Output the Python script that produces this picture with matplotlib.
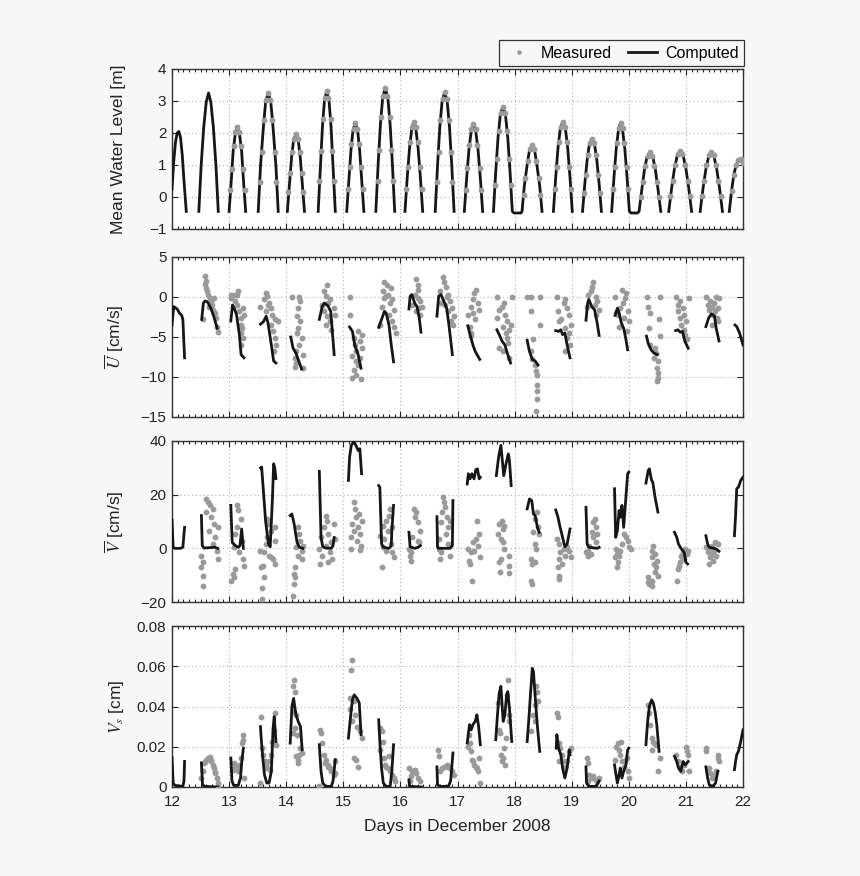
import numpy as np
import matplotlib
matplotlib.use('Agg')
import matplotlib.pyplot as plt
from matplotlib.lines import Line2D
from matplotlib.ticker import MultipleLocator

nan = np.nan

# ---- mean water level [m] (computed, nan = gap) ----
wl_t = [12.00, 12.03, 12.06, 12.09, 12.12, 12.15, 12.18, 12.21, 12.25, nan,
        12.47, 12.51, 12.555, 12.60, 12.64, 12.68, 12.725, 12.77, 12.81, nan,
        13.00, 13.04, 13.07, 13.11, 13.145, 13.18, 13.22, 13.25, 13.29, nan,
        13.51, 13.55, 13.60, 13.64, 13.685, 13.73, 13.77, 13.82, 13.86, nan,
        14.02, 14.06, 14.095, 14.13, 14.17, 14.21, 14.245, 14.28, 14.32, nan,
        14.56, 14.60, 14.635, 14.67, 14.71, 14.75, 14.785, 14.82, 14.86, nan,
        15.06, 15.10, 15.135, 15.17, 15.21, 15.25, 15.285, 15.32, 15.36, nan,
        15.57, 15.61, 15.65, 15.69, 15.735, 15.78, 15.82, 15.86, 15.90, nan,
        16.08, 16.12, 16.16, 16.20, 16.235, 16.27, 16.31, 16.35, 16.39, nan,
        16.61, 16.65, 16.69, 16.73, 16.775, 16.82, 16.86, 16.90, 16.94, nan,
        17.12, 17.16, 17.20, 17.24, 17.28, 17.32, 17.36, 17.40, 17.44, nan,
        17.63, 17.67, 17.71, 17.75, 17.795, 17.84, 17.88, 17.92, 17.96, 17.99, 18.11,
        18.13, 18.17, 18.22, 18.26, 18.305, 18.35, 18.39, 18.44, 18.48, nan,
        18.68, 18.72, 18.76, 18.80, 18.845, 18.89, 18.93, 18.97, 19.01, nan,
        19.19, 19.23, 19.27, 19.31, 19.355, 19.40, 19.44, 19.48, 19.52, nan,
        19.70, 19.74, 19.78, 19.82, 19.855, 19.89, 19.93, 19.97, 20.01, 20.04, 20.15,
        20.18, 20.23, 20.275, 20.32, 20.37, 20.42, 20.465, 20.51, 20.56, nan,
        20.70, 20.75, 20.80, 20.85, 20.90, 20.95, 21.00, 21.05, 21.10, nan,
        21.25, 21.30, 21.35, 21.40, 21.445, 21.49, 21.54, 21.59, 21.64, nan,
        21.76, 21.80, 21.84, 21.88, 21.92, 21.96, 22.00]
wl_v = [0.25, 1.1, 1.7, 2.0, 2.05, 1.85, 1.3, 0.5, -0.45, nan,
        -0.45, 0.97, 2.17, 2.97, 3.25, 2.97, 2.17, 0.97, -0.45, nan,
        -0.45, 0.56, 1.42, 2.0, 2.2, 2.0, 1.42, 0.56, -0.45, nan,
        -0.45, 0.97, 2.17, 2.97, 3.25, 2.97, 2.17, 0.97, -0.45, nan,
        -0.45, 0.48, 1.26, 1.79, 1.97, 1.79, 1.26, 0.48, -0.45, nan,
        -0.45, 0.99, 2.20, 3.02, 3.3, 3.02, 2.20, 0.99, -0.45, nan,
        -0.45, 0.60, 1.49, 2.09, 2.3, 2.09, 1.49, 0.60, -0.45, nan,
        -0.45, 1.02, 2.27, 3.11, 3.4, 3.11, 2.27, 1.02, -0.45, nan,
        -0.45, 0.62, 1.53, 2.14, 2.35, 2.14, 1.53, 0.62, -0.45, nan,
        -0.45, 0.97, 2.18, 2.99, 3.27, 2.99, 2.18, 0.97, -0.45, nan,
        -0.45, 0.59, 1.47, 2.06, 2.27, 2.06, 1.47, 0.59, -0.45, nan,
        -0.45, 0.80, 1.86, 2.57, 2.82, 2.57, 1.86, 0.80, -0.45, -0.5, -0.5,
        -0.45, 0.34, 1.01, 1.46, 1.62, 1.46, 1.01, 0.34, -0.45, nan,
        -0.45, 0.62, 1.53, 2.14, 2.35, 2.14, 1.53, 0.62, -0.45, nan,
        -0.45, 0.42, 1.15, 1.65, 1.82, 1.65, 1.15, 0.42, -0.45, nan,
        -0.45, 0.61, 1.51, 2.11, 2.32, 2.11, 1.51, 0.61, -0.45, -0.5, -0.5,
        -0.45, 0.26, 0.86, 1.26, 1.4, 1.26, 0.86, 0.26, -0.45, nan,
        -0.45, 0.28, 0.89, 1.31, 1.45, 1.31, 0.89, 0.28, -0.45, nan,
        -0.45, 0.27, 0.87, 1.28, 1.42, 1.28, 0.87, 0.27, -0.45, nan,
        -0.45, 0.2, 0.7, 1.0, 1.15, 1.2, 1.05]

# measured water level
wl_mt = [13.02, 13.05, 13.08, 13.11, 13.145, 13.18, 13.21, 13.24, 13.27,
         13.54, 13.57, 13.61, 13.65, 13.685, 13.72, 13.76, 13.80, 13.83,
         14.04, 14.07, 14.10, 14.14, 14.17, 14.20, 14.24, 14.27, 14.30,
         14.58, 14.61, 14.64, 14.68, 14.71, 14.74, 14.78, 14.81, 14.84,
         15.08, 15.11, 15.14, 15.18, 15.21, 15.24, 15.28, 15.31, 15.34,
         15.60, 15.63, 15.66, 15.70, 15.735, 15.77, 15.81, 15.84, 15.87,
         16.10, 16.13, 16.17, 16.20, 16.235, 16.27, 16.30, 16.34, 16.37,
         16.64, 16.67, 16.70, 16.74, 16.775, 16.81, 16.85, 16.88, 16.91,
         17.15, 17.17, 17.21, 17.24, 17.28, 17.32, 17.35, 17.39, 17.41,
         17.66, 17.69, 17.72, 17.76, 17.795, 17.83, 17.87, 17.90, 17.93,
         18.16, 18.19, 18.23, 18.27, 18.305, 18.34, 18.38, 18.42, 18.45,
         18.71, 18.74, 18.77, 18.81, 18.845, 18.88, 18.92, 18.95, 18.98,
         19.22, 19.25, 19.28, 19.32, 19.355, 19.39, 19.43, 19.46, 19.49,
         19.72, 19.75, 19.79, 19.82, 19.855, 19.89, 19.92, 19.96, 19.99,
         20.21, 20.24, 20.29, 20.33, 20.37, 20.41, 20.45, 20.50, 20.53,
         20.73, 20.77, 20.81, 20.86, 20.90, 20.94, 20.99, 21.03, 21.07,
         21.28, 21.32, 21.36, 21.40, 21.445, 21.49, 21.53, 21.57, 21.61,
         21.80, 21.84, 21.88, 21.92, 21.96, 22.00]
wl_mv = [0.21, 0.88, 1.59, 2.04, 2.2, 2.04, 1.59, 0.88, 0.21,
         0.48, 1.40, 2.40, 3.03, 3.25, 3.03, 2.40, 1.40, 0.48,
         0.16, 0.76, 1.41, 1.82, 1.97, 1.82, 1.41, 0.76, 0.16,
         0.49, 1.43, 2.44, 3.08, 3.3, 3.08, 2.44, 1.43, 0.49,
         0.24, 0.93, 1.67, 2.14, 2.3, 2.14, 1.67, 0.93, 0.24,
         0.51, 1.48, 2.51, 3.17, 3.4, 3.17, 2.51, 1.48, 0.51,
         0.25, 0.95, 1.71, 2.18, 2.35, 2.18, 1.71, 0.95, 0.25,
         0.48, 1.41, 2.41, 3.05, 3.27, 3.05, 2.41, 1.41, 0.48,
         0.23, 0.91, 1.64, 2.11, 2.27, 2.11, 1.64, 0.91, 0.23,
         0.37, 1.19, 2.07, 2.62, 2.82, 2.62, 2.07, 1.19, 0.37,
         0.07, 0.59, 1.14, 1.50, 1.62, 1.50, 1.14, 0.59, 0.07,
         0.25, 0.95, 1.71, 2.18, 2.35, 2.18, 1.71, 0.95, 0.25,
         0.12, 0.69, 1.30, 1.68, 1.82, 1.68, 1.30, 0.69, 0.12,
         0.24, 0.94, 1.68, 2.15, 2.32, 2.15, 1.68, 0.94, 0.24,
         0.01, 0.48, 0.97, 1.29, 1.4, 1.29, 0.97, 0.48, 0.01,
         0.03, 0.50, 1.01, 1.34, 1.45, 1.34, 1.01, 0.50, 0.03,
         0.02, 0.49, 0.99, 1.31, 1.42, 1.31, 0.99, 0.49, 0.02,
         0.2, 0.7, 1.0, 1.15, 1.2, 1.05]

# ---- depth-mean cross-shore velocity U [cm/s] ----
u_t = [12.00, 12.03, 12.09, 12.13, 12.17, 12.19, 12.22, nan,
       12.52, 12.55, 12.58, 12.62, 12.68, 12.73, 12.79, nan,
       13.03, 13.06, 13.09, 13.13, 13.18, 13.21, 13.26, nan,
       13.55, 13.60, 13.65, 13.68, 13.74, 13.78, 13.82, nan,
       14.08, 14.12, 14.17, 14.21, 14.27, nan,
       14.58, 14.63, 14.67, 14.73, 14.78, 14.81, 14.84, nan,
       15.11, 15.16, 15.20, 15.26, 15.31, nan,
       15.62, 15.66, 15.72, 15.75, 15.80, 15.84, 15.88, nan,
       16.15, 16.17, 16.20, 16.25, 16.29, 16.33, 16.36, nan,
       16.64, 16.67, 16.71, 16.76, 16.81, 16.85, 16.91, nan,
       17.18, 17.22, 17.27, 17.31, 17.39, nan,
       17.69, 17.73, 17.78, 17.83, 17.88, 17.93, nan,
       18.22, 18.26, 18.31, 18.36, 18.41, nan,
       18.72, 18.77, 18.81, 18.84, 18.88, 18.92, 18.97, nan,
       19.25, 19.28, 19.30, 19.35, 19.40, 19.44, 19.48, nan,
       19.76, 19.80, 19.83, 19.87, 19.91, 19.95, 19.98, nan,
       20.31, 20.34, 20.39, 20.44, 20.50, nan,
       20.82, 20.86, 20.90, 20.94, 20.98, 21.04, nan,
       21.35, 21.40, 21.45, 21.50, 21.53, 21.58, nan,
       21.86, 21.89, 21.94, 22.00]
u_v = [-3.5, -1.2, -1.5, -2.0, -2.3, -2.8, -7.6, nan,
       -2.8, -0.75, -0.5, -0.6, -1.4, -2.4, -3.9, nan,
       -3.0, -1.0, -1.4, -2.2, -4.7, -7.2, -7.6, nan,
       -3.4, -3.1, -2.4, -3.2, -6.0, -8.0, -8.25, nan,
       -5.0, -6.4, -7.0, -7.8, -9.0, nan,
       -2.8, -1.2, -0.75, -1.1, -1.8, -4.5, -7.2, nan,
       -3.75, -4.3, -6.0, -7.2, -8.9, nan,
       -3.8, -3.0, -1.8, -2.0, -3.5, -6.0, -8.1, nan,
       -1.5, 0.1, 0.3, -0.75, -1.2, -2.6, -4.4, nan,
       -2.4, 0.1, 0.3, -0.5, -1.4, -3.5, -7.2, nan,
       -3.6, -4.7, -6.0, -6.8, -7.8, nan,
       -4.1, -4.7, -5.5, -6.0, -7.2, -8.25, nan,
       -5.4, -6.8, -7.8, -8.0, -8.5, nan,
       -4.2, -4.3, -4.1, -4.7, -4.5, -6.0, -7.6, nan,
       -2.9, -0.75, -0.3, -1.2, -1.6, -3.0, -4.8, nan,
       -2.3, -1.4, -2.0, -3.25, -3.9, -5.3, -6.6, nan,
       -4.9, -5.8, -6.6, -7.0, -7.2, nan,
       -4.2, -4.1, -4.4, -4.3, -5.5, -6.4, nan,
       -3.7, -2.6, -2.1, -2.4, -3.9, -5.5, nan,
       -3.5, -3.7, -4.5, -6.0]

u_mt = [12.58, 12.59, 12.60, 12.61, 12.63, 12.66, 12.68, 12.70, 12.72, 12.75, 12.77, 12.78, 12.80, 12.55, 12.65, 12.74, 12.585,
        13.03, 13.08, 13.13, 13.16, 13.04, 13.11, 13.14, 13.18, 13.20, 13.21, 13.22, 13.20, 13.24, 13.21, 13.24, 13.26,
        13.64, 13.67, 13.61, 13.70, 13.54, 13.74, 13.64, 13.75, 13.80, 13.74, 13.77, 13.80, 13.82, 13.79, 13.86, 13.68,
        14.10, 14.23, 14.25, 14.21, 14.19, 14.25, 14.21, 14.19, 14.27, 14.23, 14.17, 14.15, 14.17, 14.15, 14.30, 14.30,
        14.71, 14.66, 14.69, 14.76, 14.73, 14.83, 14.66, 14.71, 14.76, 14.69, 14.79, 14.86, 14.63,
        15.12, 15.12, 15.26, 15.32, 15.19, 15.29, 15.20, 15.22, 15.16, 15.22, 15.26, 15.18, 15.22, 15.16, 15.31, 15.29, 15.32,
        15.72, 15.77, 15.84, 15.69, 15.78, 15.74, 15.85, 15.82, 15.67, 15.88, 15.80, 15.85, 15.88, 15.92, 15.65, 15.71,
        16.28, 16.31, 16.30, 16.25, 16.31, 16.35, 16.21, 16.33, 16.28, 16.35, 16.37,
        16.74, 16.76, 16.79, 16.70, 16.84, 16.81, 16.87, 16.78, 16.91, 16.84, 16.94, 16.89, 16.92, 16.71,
        17.32, 17.29, 17.27, 17.36, 17.24, 17.38, 17.27, 17.18, 17.30, 17.22, 17.24, 17.245,
        17.70, 17.95, 17.82, 17.78, 17.73, 17.83, 17.70, 17.87, 17.80, 17.90, 17.85, 17.87, 17.89, 17.73, 17.80, 17.91, 17.93,
        18.22, 18.29, 18.44, 18.29, 18.44, 18.33, 18.28, 18.31, 18.35, 18.37, 18.39, 18.39, 18.39, 18.39, 18.37,
        18.74, 18.89, 18.86, 18.92, 18.76, 18.96, 18.82, 18.99, 18.89, 18.96, 18.92, 18.97, 18.88, 18.77,
        19.38, 19.35, 19.34, 19.28, 19.42, 19.45, 19.40, 19.47, 19.43, 19.27,
        19.88, 19.95, 19.76, 19.93, 19.89, 19.85, 19.98, 19.81, 19.91, 20.01, 19.83, 19.96, 19.78,
        20.31, 20.55, 20.34, 20.38, 20.53, 20.36, 20.54, 20.38, 20.46, 20.47, 20.44, 20.51, 20.49, 20.51, 20.51, 20.49,
        20.82, 20.90, 20.86, 20.95, 20.87, 20.97, 20.90, 21.00, 20.92, 20.97, 20.99, 21.02, 21.06,
        21.35, 21.52, 21.58, 21.43, 21.49, 21.39, 21.46, 21.56, 21.41, 21.51, 21.47, 21.54, 21.57, 21.45]
u_mv = [2.6, 2.0, 1.1, 0.7, 0.3, -0.1, -0.5, -1.0, -1.6, -2.0, -2.6, -3.7, -4.4, -2.8, -1.2, -0.1, 1.6,
        0.3, 0.3, 0.3, 0.7, -0.1, -0.5, -1.0, -1.8, -2.6, -3.5, -3.9, -4.5, -5.1, -6.0, -1.4, -2.2,
        0.5, 0.1, -0.3, -0.75, -1.2, -1.4, -1.8, -2.2, -2.8, -3.5, -4.3, -5.1, -6.0, -6.8, -3.0, -1.0,
        0.0, 0.0, -0.5, -1.4, -2.4, -3.0, -3.9, -4.5, -5.1, -6.0, -6.8, -7.6, -8.25, -8.7, -8.9, -7.2,
        1.5, 0.7, 0.1, -0.3, -0.75, -1.4, -1.8, -2.4, -3.0, -3.5, -4.1, -2.2, -1.0,
        0.0, -2.2, -4.3, -4.7, -5.1, -5.5, -6.0, -6.8, -7.4, -8.0, -8.5, -9.1, -9.7, -10.1, -10.3, -7.6, -6.4,
        1.9, 1.5, 1.1, 0.7, 0.3, 0.1, -0.3, -0.75, -1.2, -1.6, -2.2, -3.0, -3.7, -4.5, -3.5, -0.1,
        2.2, 1.5, 0.9, 0.3, -0.1, -0.5, -1.0, -1.4, -1.8, -2.2, -1.2,
        2.5, 1.9, 1.3, 0.7, 0.3, -0.05, -0.5, -1.0, -1.4, -1.8, -2.4, -3.0, -3.5, -0.75,
        0.9, 0.5, -0.3, -0.75, -1.2, -1.6, -2.0, -2.2, -2.8, -3.7, -4.5, -4.9,
        0.0, 0.0, -0.75, -1.2, -1.6, -2.2, -2.6, -3.0, -3.7, -4.1, -4.5, -5.1, -5.75, -6.4, -6.8, -7.6, -3.5,
        0.0, 0.0, 0.0, -1.8, -3.5, -5.3, -6.8, -7.8, -8.5, -9.3, -9.7, -11.0, -11.8, -12.8, -14.3,
        0.0, -0.3, -0.75, -1.4, -1.8, -2.2, -2.8, -3.5, -3.9, -4.5, -5.1, -6.0, -6.8, -3.0,
        1.9, 1.3, 0.7, 0.3, 0.0, -0.5, -1.0, -1.6, -2.2, -1.2,
        0.9, 0.5, 0.0, -0.1, -0.75, -1.4, -1.8, -2.2, -2.6, -3.0, -3.7, -4.3, -2.0,
        0.0, 0.0, -1.2, -2.0, -2.8, -3.9, -4.9, -6.0, -6.4, -7.0, -7.6, -8.0, -8.9, -9.5, -10.1, -10.5,
        0.0, -0.5, -1.0, -1.4, -1.8, -2.2, -2.6, -3.0, -3.5, -4.1, -4.7, -5.3, -0.1,
        0.0, 0.0, -0.1, -0.5, -0.75, -1.0, -1.2, -1.4, -1.6, -1.8, -2.2, -2.6, -3.0, -3.5]

# ---- depth-mean alongshore velocity V [cm/s] ----
v_t = [12.00, 12.02, 12.05, 12.15, 12.19, 12.22, nan,
       12.515, 12.53, 12.56, 12.75, 12.80, nan,
       13.03, 13.055, 13.11, 13.16, 13.19, 13.22, 13.25, nan,
       13.55, 13.57, 13.64, 13.69, 13.72, 13.76, 13.78, 13.80, 13.82, nan,
       14.07, 14.10, 14.14, 14.19, 14.23, 14.29, nan,
       14.58, 14.61, 14.64, 14.69, 14.79, 14.82, 14.84, nan,
       15.09, 15.11, 15.14, 15.18, 15.22, 15.26, 15.29, 15.32, nan,
       15.62, 15.64, 15.67, 15.70, 15.80, 15.84, 15.85, 15.88, nan,
       16.15, 16.17, 16.25, 16.31, 16.35, nan,
       16.64, 16.65, 16.67, 16.87, 16.91, 16.92, nan,
       17.17, 17.19, 17.22, 17.25, 17.29, 17.32, 17.35, 17.38, 17.40, nan,
       17.68, 17.72, 17.76, 17.78, 17.81, 17.85, 17.89, 17.91, 17.94, nan,
       18.22, 18.26, 18.30, 18.33, 18.36, 18.40, 18.43, nan,
       18.72, 18.76, 18.79, 18.84, 18.88, 18.92, 18.97, nan,
       19.25, 19.27, 19.30, 19.45, 19.48, nan,
       19.75, 19.77, 19.80, 19.83, 19.85, 19.88, 19.91, 19.95, 19.98, 20.00, nan,
       20.30, 20.34, 20.36, 20.40, 20.42, 20.46, 20.51, nan,
       20.80, 20.84, 20.87, 20.92, 20.97, 21.00, 21.03, nan,
       21.35, 21.38, 21.41, 21.47, 21.53, 21.58, nan,
       21.85, 21.87, 21.89, 21.92, 21.96, 22.00]
v_v = [10.6, 0.4, 0.0, 0.0, 0.4, 7.8, nan,
       12.2, 1.0, 0.1, 0.4, 0.0, nan,
       16.0, 2.2, 1.0, 0.4, 1.0, 7.2, 0.0, nan,
       30.0, 30.3, 10.0, 1.6, 0.6, 19.0, 31.5, 30.0, 26.0, nan,
       12.2, 12.8, 9.0, 2.2, 0.4, 0.0, nan,
       28.7, 4.0, 0.6, 0.1, 0.0, 1.0, 4.0, nan,
       25.3, 34.0, 38.4, 39.6, 38.4, 36.5, 37.1, 27.8, nan,
       23.4, 22.8, 1.6, 0.4, 0.0, 1.0, 6.6, 16.0, nan,
       6.0, 0.6, 0.0, 0.4, 1.0, nan,
       11.8, 0.4, 0.0, 0.0, 1.0, 17.8, nan,
       24.0, 27.8, 25.9, 27.8, 25.9, 29.3, 29.6, 25.9, 26.5, nan,
       27.1, 34.0, 38.4, 34.0, 27.1, 31.5, 35.2, 32.7, 23.4, nan,
       14.7, 18.4, 17.8, 12.8, 12.2, 7.8, 6.0, nan,
       14.3, 11.6, 8.5, 4.1, 0.6, 1.6, 7.2, nan,
       15.3, 1.6, 0.4, 0.0, 0.4, nan,
       22.2, 4.1, 6.6, 14.1, 11.6, 16.0, 7.8, 19.0, 27.8, 28.4, nan,
       24.3, 29.0, 29.6, 25.3, 24.7, 19.0, 13.5, nan,
       6.0, 4.1, 1.6, -0.2, -1.5, -5.2, -5.8, nan,
       4.7, 1.6, 0.4, 0.1, -0.2, -1.1, nan,
       4.7, 12.2, 22.2, 22.8, 25.3, 26.5]

v_mt = [12.60, 12.63, 12.67, 12.71, 12.60, 12.68, 12.73, 12.65, 12.75, 12.71, 12.78, 12.515, 12.81, 12.535, 12.515, 12.55, 12.55, 12.80,
        13.14, 13.16, 13.20, 13.14, 13.11, 13.22, 13.08, 13.18, 13.24, 13.26, 13.10, 13.06, 13.08, 13.04,
        13.67, 13.69, 13.74, 13.67, 13.64, 13.54, 13.61, 13.70, 13.77, 13.80, 13.59, 13.55, 13.61, 13.57, 13.57, 13.74, 13.80, 13.80,
        14.20, 14.23, 14.25, 14.17, 14.27, 14.21, 14.28, 14.15, 14.13, 14.15, 14.13, 14.12, 14.29,
        14.69, 14.71, 14.66, 14.73, 14.61, 14.79, 14.69, 14.58, 14.76, 14.63, 14.81, 14.73, 14.60, 14.83, 14.86,
        15.19, 15.20, 15.22, 15.16, 15.26, 15.19, 15.29, 15.14, 15.24, 15.31, 15.14, 15.29, 15.32, 15.27,
        15.82, 15.80, 15.75, 15.69, 15.78, 15.64, 15.72, 15.84, 15.69, 15.75, 15.85, 15.88, 15.67, 15.85,
        16.23, 16.28, 16.25, 16.31, 16.35, 16.21, 16.30, 16.15, 16.18, 16.17, 16.19, 16.33,
        16.74, 16.76, 16.78, 16.72, 16.81, 16.71, 16.83, 16.79, 16.68, 16.84, 16.68, 16.71, 16.87, 16.70, 16.86,
        17.34, 17.38, 17.32, 17.27, 17.36, 17.18, 17.24, 17.40, 17.20, 17.22, 17.25, 17.29,
        17.78, 17.73, 17.80, 17.71, 17.76, 17.80, 17.82, 17.90, 17.76, 17.73, 17.91, 17.75, 17.91, 17.82,
        18.39, 18.36, 18.41, 18.33, 18.35, 18.37, 18.29, 18.36, 18.31, 18.28, 18.31, 18.43,
        18.74, 18.78, 18.86, 18.96, 18.80, 18.89, 18.77, 18.83, 18.76, 18.77, 18.78, 18.92, 18.99,
        19.40, 19.38, 19.42, 19.35, 19.38, 19.43, 19.31, 19.28, 19.25, 19.34, 19.29, 19.45,
        19.91, 19.95, 19.98, 19.88, 20.00, 19.78, 19.85, 19.80, 19.83, 19.76, 19.81, 19.80, 20.03,
        20.42, 20.40, 20.46, 20.41, 20.49, 20.44, 20.47, 20.46, 20.34, 20.40, 20.36, 20.41, 20.33, 20.51,
        20.99, 20.95, 20.92, 20.97, 20.90, 20.88, 20.87, 20.84, 21.02, 21.03, 20.94,
        21.51, 21.46, 21.41, 21.49, 21.39, 21.45, 21.52, 21.43, 21.47, 21.41, 21.56, 21.36]
v_mv = [18.4, 17.2, 16.0, 14.7, 13.5, 11.6, 9.1, 6.6, 4.1, 1.6, -0.9, -2.7, -4.0, -5.2, -7.1, -10.2, -14.0, 7.8,
        16.0, 14.1, 11.0, 7.8, 5.4, 2.9, 0.4, -1.5, -4.0, -6.5, -7.7, -9.6, -10.8, -12.1,
        11.0, 9.1, 6.6, 4.1, 1.6, -0.9, -1.5, -2.7, -4.0, -5.8, -6.5, -7.1, -10.8, -14.6, -18.9, -3.4, 2.9, 7.8,
        7.8, 5.4, 2.9, 0.4, -0.9, -2.7, -4.0, -7.1, -9.6, -10.8, -13.3, -17.7, 1.0,
        12.2, 10.3, 7.8, 5.4, 4.1, 2.2, 1.0, -0.2, -1.5, -2.7, -4.0, -5.2, -5.8, 9.1, 3.5,
        17.2, 14.7, 11.6, 9.1, 7.8, 6.6, 5.4, 4.1, 2.9, 1.0, -0.2, -0.6, 10.3, 12.8,
        14.7, 12.2, 10.3, 8.5, 6.6, 4.7, 3.5, 1.6, 0.4, -0.9, -1.5, -3.4, -7.1, 7.8,
        14.7, 13.5, 11.6, 9.7, 6.6, 4.1, 2.9, -0.2, -1.5, -2.7, -4.6, 2.2,
        19.0, 17.2, 15.3, 13.5, 11.6, 9.7, 7.8, 5.4, 3.5, 1.6, -0.2, -1.5, -2.7, -4.0, 10.3,
        10.3, 5.4, 3.5, 2.2, 1.0, -0.2, -1.5, -3.4, -4.6, -5.8, -12.1, -0.9,
        10.3, 9.1, 7.2, 5.4, 3.5, 2.2, -0.2, -2.7, -4.0, -5.2, -6.5, -9.0, -9.3, 8.5,
        13.5, 11.0, 7.8, 6.0, 1.6, -0.2, -4.0, -5.2, -5.8, -12.1, -13.3, 5.4,
        3.5, 1.6, -0.2, -0.9, -1.5, -2.7, -4.0, -5.8, -7.1, -10.2, -11.5, 0.4, -3.4,
        11.0, 9.7, 7.8, 6.0, 4.1, 2.2, 1.0, -0.9, -1.5, -2.1, -2.7, 5.4,
        5.4, 4.1, 2.9, 1.6, 0.4, -0.2, -0.9, -2.1, -2.7, -3.4, -5.2, -7.1, -0.2,
        1.0, -0.9, -2.1, -3.4, -4.6, -5.8, -7.1, -9.0, -10.8, -12.1, -13.3, -14.0, -12.7, -10.2,
        -0.2, -1.5, -2.7, -4.0, -5.2, -6.5, -7.7, -12.1, -2.1, -0.9, -3.4,
        2.2, 1.0, -0.2, -0.9, -1.5, -2.1, -2.7, -3.4, -4.6, -5.8, 1.6, 0.4]

# ---- suspended sediment volume Vs [cm] ----
vs_t = [12.00, 12.02, 12.05, 12.19, 12.21, 12.22, nan,
        12.515, 12.535, 12.58, 12.80, nan,
        13.03, 13.05, 13.08, 13.16, 13.20, 13.22, 13.25, nan,
        13.55, 13.56, 13.59, 13.62, 13.66, 13.70, 13.74, 13.77, 13.79, 13.82, nan,
        14.07, 14.10, 14.13, 14.17, 14.21, 14.25, 14.28, nan,
        14.58, 14.61, 14.64, 14.69, 14.79, 14.82, 14.86, nan,
        15.09, 15.13, 15.16, 15.19, 15.24, 15.28, 15.31, nan,
        15.62, 15.64, 15.67, 15.70, 15.75, 15.82, 15.85, 15.88, nan,
        16.15, 16.16, 16.37, nan,
        16.64, 16.65, 16.70, 16.84, 16.88, 16.92, nan,
        17.17, 17.21, 17.24, 17.27, 17.31, 17.34, 17.37, 17.40, nan,
        17.67, 17.70, 17.73, 17.76, 17.80, 17.83, 17.86, 17.88, 17.91, 17.95, nan,
        18.22, 18.25, 18.28, 18.31, 18.33, 18.36, 18.40, 18.44, nan,
        18.73, 18.74, 18.77, 18.81, 18.84, 18.88, 18.92, 18.96, 18.97, nan,
        19.25, 19.26, 19.30, 19.43, 19.46, 19.48, nan,
        19.75, 19.78, 19.80, 19.83, 19.85, 19.88, 19.91, 19.95, 19.98, 20.00, nan,
        20.30, 20.33, 20.36, 20.40, 20.43, 20.46, 20.49, 20.53, nan,
        20.80, 20.84, 20.87, 20.91, 20.95, 20.99, 21.04, nan,
        21.35, 21.38, 21.41, 21.47, 21.52, 21.56, nan,
        21.85, 21.87, 21.89, 21.92, 21.96, 22.00]
vs_v = [0.0147, 0.002, 0.0008, 0.0003, 0.003, 0.0127, nan,
        0.012, 0.001, 0.0003, 0.0, nan,
        0.0144, 0.003, 0.0008, 0.0008, 0.0045, 0.012, 0.0193, nan,
        0.030, 0.025, 0.0144, 0.006, 0.002, 0.002, 0.0078, 0.029, 0.035, 0.0226, nan,
        0.0218, 0.040, 0.044, 0.036, 0.0326, 0.030, 0.0185, nan,
        0.021, 0.0078, 0.002, 0.0003, 0.0003, 0.003, 0.0136, nan,
        0.0243, 0.0359, 0.0433, 0.0458, 0.0441, 0.0417, 0.026, nan,
        0.0334, 0.0226, 0.0094, 0.002, 0.0003, 0.0003, 0.0078, 0.021, nan,
        0.0036, 0.0003, 0.0, nan,
        0.010, 0.001, 0.0003, 0.0003, 0.003, 0.0169, nan,
        0.0218, 0.031, 0.0284, 0.031, 0.0326, 0.0359, 0.030, 0.021, nan,
        0.0235, 0.0359, 0.0466, 0.050, 0.0326, 0.0359, 0.0458, 0.0474, 0.0392, 0.0226, nan,
        0.0226, 0.034, 0.047, 0.059, 0.0574, 0.045, 0.030, 0.0177, nan,
        0.0193, 0.026, 0.0193, 0.016, 0.0094, 0.0045, 0.0094, 0.0185, 0.016, nan,
        0.010, 0.002, 0.0003, 0.0003, 0.002, 0.003, nan,
        0.011, 0.0053, 0.002, 0.006, 0.0094, 0.0045, 0.0078, 0.011, 0.0185, 0.0193, nan,
        0.021, 0.0326, 0.040, 0.0433, 0.0417, 0.0375, 0.031, 0.0177, nan,
        0.0152, 0.0127, 0.0094, 0.0078, 0.0127, 0.011, 0.0127, nan,
        0.010, 0.0045, 0.001, 0.0003, 0.002, 0.0078, nan,
        0.0086, 0.0127, 0.016, 0.0177, 0.0226, 0.0284]

vs_mt = [12.50, 12.535, 12.56, 12.58, 12.60, 12.63, 12.65, 12.67, 12.68, 12.69, 12.71, 12.73, 12.75, 12.76, 12.78, 12.80, 12.81,
         13.06, 13.08, 13.11, 13.14, 13.16, 13.18, 13.21, 13.22, 13.24, 13.25, 13.26,
         13.54, 13.55, 13.57, 13.59, 13.62, 13.64, 13.67, 13.70, 13.72, 13.74, 13.76, 13.78, 13.80, 13.82,
         14.12, 14.12, 14.13, 14.13, 14.15, 14.15, 14.17, 14.17, 14.19, 14.20, 14.21, 14.23, 14.25, 14.27,
         14.58, 14.60, 14.61, 14.63, 14.66, 14.68, 14.69, 14.73, 14.74, 14.76, 14.79, 14.83, 14.85, 14.86,
         15.11, 15.12, 15.14, 15.16, 15.16, 15.18, 15.19, 15.20, 15.22, 15.24, 15.26, 15.29, 15.32,
         15.64, 15.65, 15.67, 15.69, 15.71, 15.73, 15.75, 15.78, 15.80, 15.82, 15.85, 15.88, 15.90,
         16.15, 16.17, 16.18, 16.21, 16.25, 16.28, 16.31, 16.35,
         16.66, 16.68, 16.70, 16.72, 16.76, 16.81, 16.84, 16.87, 16.91, 16.94,
         17.18, 17.20, 17.22, 17.24, 17.25, 17.27, 17.29, 17.32, 17.34, 17.36, 17.38, 17.40,
         17.71, 17.73, 17.75, 17.76, 17.78, 17.80, 17.82, 17.83, 17.85, 17.87, 17.89, 17.90, 17.91,
         18.29, 18.33, 18.35, 18.36, 18.38, 18.39, 18.41,
         18.74, 18.76, 18.77, 18.78, 18.80, 18.83, 18.86, 18.89, 18.92, 18.96, 18.99,
         19.27, 19.28, 19.29, 19.31, 19.35, 19.38, 19.42, 19.45, 19.48,
         19.76, 19.78, 19.81, 19.83, 19.85, 19.87, 19.88, 19.91, 19.93, 19.96, 19.98, 20.00,
         20.33, 20.36, 20.38, 20.40, 20.41, 20.42, 20.44, 20.47, 20.51, 20.54,
         20.82, 20.86, 20.90, 20.94, 20.97, 21.00, 21.02, 21.03, 21.06,
         21.35, 21.36, 21.40, 21.43, 21.46, 21.49, 21.52, 21.56, 21.57, 21.58]
vs_mv = [0.0045, 0.0078, 0.012, 0.0125, 0.0136, 0.0144, 0.014, 0.0147, 0.0135, 0.0127, 0.011, 0.0094, 0.0075, 0.007, 0.0045, 0.002, 0.0003,
         0.0086, 0.012, 0.010, 0.0094, 0.0078, 0.011, 0.0144, 0.0218, 0.0235, 0.026, 0.0045,
         0.002, 0.035, 0.0193, 0.016, 0.0127, 0.011, 0.0094, 0.0127, 0.0086, 0.016, 0.0226, 0.0276, 0.0367, 0.021,
         0.050, 0.0268, 0.0532, 0.0375, 0.0474, 0.0293, 0.0359, 0.0152, 0.026, 0.0136, 0.012, 0.016, 0.0193, 0.0169,
         0.0003, 0.0284, 0.0268, 0.0218, 0.016, 0.012, 0.0136, 0.011, 0.010, 0.0094, 0.0078, 0.006, 0.0127, 0.007,
         0.039, 0.044, 0.058, 0.063, 0.0326, 0.0425, 0.0144, 0.0359, 0.0136, 0.030, 0.010, 0.0276, 0.0243,
         0.0185, 0.0293, 0.0276, 0.0226, 0.0144, 0.011, 0.010, 0.0094, 0.0152, 0.0078, 0.006, 0.0045, 0.003,
         0.0094, 0.003, 0.0053, 0.0078, 0.0086, 0.007, 0.0045, 0.003,
         0.0185, 0.0152, 0.0078, 0.0094, 0.010, 0.011, 0.010, 0.0094, 0.0078, 0.006,
         0.020, 0.026, 0.0218, 0.0177, 0.0136, 0.0127, 0.011, 0.010, 0.0094, 0.0078, 0.0144, 0.002,
         0.0417, 0.0284, 0.0268, 0.016, 0.0127, 0.0144, 0.0193, 0.011, 0.0243, 0.0458, 0.0532, 0.0359, 0.0326,
         0.0276, 0.0359, 0.0326, 0.0408, 0.050, 0.0474, 0.0425,
         0.0367, 0.035, 0.0127, 0.0218, 0.0193, 0.016, 0.0127, 0.010, 0.0127, 0.0177, 0.0193,
         0.0144, 0.012, 0.003, 0.006, 0.0045, 0.0053, 0.0036, 0.003, 0.0045,
         0.0136, 0.020, 0.0218, 0.0185, 0.016, 0.0226, 0.0127, 0.010, 0.0127, 0.0144, 0.0078, 0.0045,
         0.0408, 0.0367, 0.031, 0.0185, 0.0243, 0.0226, 0.0218, 0.021, 0.0078, 0.0144,
         0.016, 0.0127, 0.010, 0.0078, 0.011, 0.020, 0.0177, 0.016, 0.0078,
         0.0193, 0.0177, 0.0094, 0.007, 0.0045, 0.006, 0.0078, 0.0144, 0.016, 0.0127]

days = [12, 13, 14, 15, 16, 17, 18, 19, 20, 21, 22]

plt.rcParams['font.family'] = ['Liberation Sans', 'DejaVu Sans']
plt.rcParams['mathtext.fontset'] = 'stix'

bg = '#f7f7f7'
gray = '#9a9a9a'
black = '#161616'
txt = '#222222'

fig = plt.figure(figsize=(8.6, 8.76), dpi=100, facecolor=bg)
W, H = 860, 876
left, right = 172, 743
tops = [69, 257, 441, 626]
bots = [229, 417, 602, 787]
axes = [fig.add_axes([left / W, 1 - b / H, (right - left) / W, (b - t) / H])
        for t, b in zip(tops, bots)]

panels = [
    (wl_t, wl_v, wl_mt, wl_mv, (-1, 4), [-1, 0, 1, 2, 3, 4], None, 'Mean Water Level [m]'),
    (u_t, u_v, u_mt, u_mv, (-15, 5), [-15, -10, -5, 0, 5], None, r'$\overline{U}$ [cm/s]'),
    (v_t, v_v, v_mt, v_mv, (-20, 40), [-20, 0, 20, 40], None, r'$\overline{V}$ [cm/s]'),
    (vs_t, vs_v, vs_mt, vs_mv, (0, 0.08), [0, 0.02, 0.04, 0.06, 0.08],
     ['0', '0.02', '0.04', '0.06', '0.08'], r'$V_s$ [cm]'),
]

ms = 4.2
for i, (ax, p) in enumerate(zip(axes, panels)):
    ct, cv, mt, mv, ylim, yt, ytl, ylab = p
    if i == 0:
        ax.plot(ct, cv, color=black, lw=2, zorder=3)
        ax.plot(mt, mv, 'o', color=gray, ms=ms, mec='none', zorder=4)
    else:
        ax.plot(mt, mv, 'o', color=gray, ms=ms, mec='none', zorder=3)
        ax.plot(ct, cv, color=black, lw=2, zorder=4)
    ax.set_facecolor('white')
    ax.set_xlim(12, 22)
    ax.set_ylim(*ylim)
    ax.set_xticks(days)
    ax.set_yticks(yt)
    if ytl:
        ax.set_yticklabels(ytl)
    ax.xaxis.set_minor_locator(MultipleLocator(0.1))
    ax.grid(True, which='major', linestyle=(0, (1, 2.5)), color='#b0b0b0', lw=0.8)
    ax.tick_params(which='both', direction='in', top=True, right=True,
                   labelsize=11, colors=txt, width=0.8)
    ax.tick_params(which='major', length=4)
    ax.tick_params(which='minor', length=2)
    ax.tick_params(axis='x', pad=6)
    ax.tick_params(axis='y', pad=4)
    for s in ax.spines.values():
        s.set_color('#333333')
        s.set_linewidth(1.0)
    if i < 3:
        ax.set_xticklabels([])
    ax.set_ylabel(ylab, fontsize=12.5, color=txt)
    ax.yaxis.set_label_coords(-0.08, 0.5)

axes[3].set_xticklabels([str(d) for d in days])
axes[3].set_xlabel('Days in December 2008', fontsize=12.5, color=txt, labelpad=7)

handles = [Line2D([], [], marker='o', ls='none', color=gray, ms=3.2, mec='none'),
           Line2D([], [], color=black, lw=2)]
leg = fig.legend(handles, ['Measured', 'Computed'], loc='upper right',
                 bbox_to_anchor=(744 / W, 1 - 40 / H), borderaxespad=0,
                 ncol=2, fontsize=11.5, frameon=True, fancybox=False,
                 edgecolor='#333333', facecolor=bg, framealpha=1,
                 handlelength=1.8, columnspacing=1.0, borderpad=0.35,
                 handletextpad=0.5)
leg.get_frame().set_linewidth(0.9)

fig.savefig('out.png', dpi=100, facecolor=bg)
